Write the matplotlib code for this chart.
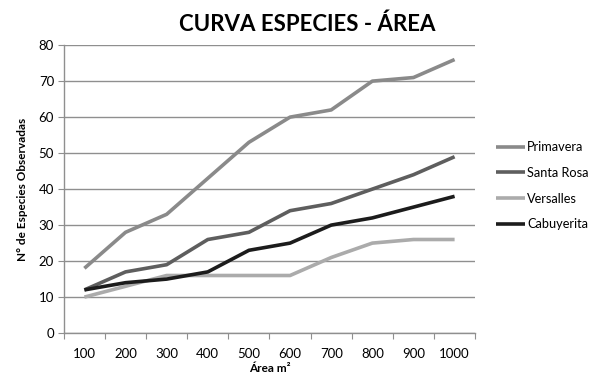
import numpy as np
import matplotlib
matplotlib.use("Agg")
import matplotlib.pyplot as plt
from matplotlib.ticker import FixedLocator, NullFormatter

plt.rcParams["font.family"] = ["Lato", "DejaVu Sans"]

AREAS = ["100", "200", "300", "400", "500", "600", "700", "800", "900", "1000"]
PRIMAVERA = [18, 28, 33, 43, 53, 60, 62, 70, 71, 76]
SANTA_ROSA = [12, 17, 19, 26, 28, 34, 36, 40, 44, 49]
VERSALLES = [10, 13, 16, 16, 16, 16, 21, 25, 26, 26]
CABUYERITA = [12, 14, 15, 17, 23, 25, 30, 32, 35, 38]

SERIES = [
    ("Primavera", PRIMAVERA, "#8a8a8a"),
    ("Santa Rosa", SANTA_ROSA, "#5e5e5e"),
    ("Versalles", VERSALLES, "#ababab"),
    ("Cabuyerita", CABUYERITA, "#1c1c1c"),
]

fig = plt.figure(figsize=(5.91, 3.73), dpi=100)
ax = fig.add_axes([0.108, 0.107, 0.696, 0.772])

x = np.arange(1, len(AREAS) + 1)
for name, vals, col in SERIES:
    ax.plot(x, vals, color=col, lw=2.6, label=name, solid_capstyle="butt")

ax.set_xlim(0.5, len(AREAS) + 0.5)
ax.set_ylim(0, 80)
ax.set_yticks(range(0, 81, 10))
ax.yaxis.grid(True, color="#8f8f8f", lw=1.0)
ax.set_axisbelow(True)

ax.xaxis.set_major_locator(FixedLocator(np.arange(0.5, len(AREAS) + 1, 1)))
ax.xaxis.set_major_formatter(NullFormatter())
ax.xaxis.set_minor_locator(FixedLocator(x))
ax.set_xticklabels(AREAS, minor=True)
ax.tick_params(axis="x", which="minor", length=0, pad=11, labelsize=9.5)
ax.tick_params(axis="x", which="major", length=4, color="#8f8f8f", direction="out")
ax.tick_params(axis="y", length=4, color="#8f8f8f", labelsize=9.5, pad=3)

for s in ["top", "right"]:
    ax.spines[s].set_visible(False)
for s in ["left", "bottom"]:
    ax.spines[s].set_color("#8f8f8f")
    ax.spines[s].set_linewidth(1.0)

ax.set_xlabel("Área m²", fontsize=8.5, fontweight="bold", labelpad=2)
ax.set_ylabel("N° de Especies Observadas", fontsize=8.5, fontweight="bold", labelpad=8)
fig.suptitle("CURVA ESPECIES - ÁREA", x=0.52, y=0.965, fontsize=16, fontweight="bold")

leg = ax.legend(loc="upper left", bbox_to_anchor=(1.05, 0.667), frameon=False,
                fontsize=9.2, handlelength=2.3, handletextpad=0.15, labelspacing=1.08,
                borderpad=0, borderaxespad=0)

fig.savefig("out.png", dpi=100)
